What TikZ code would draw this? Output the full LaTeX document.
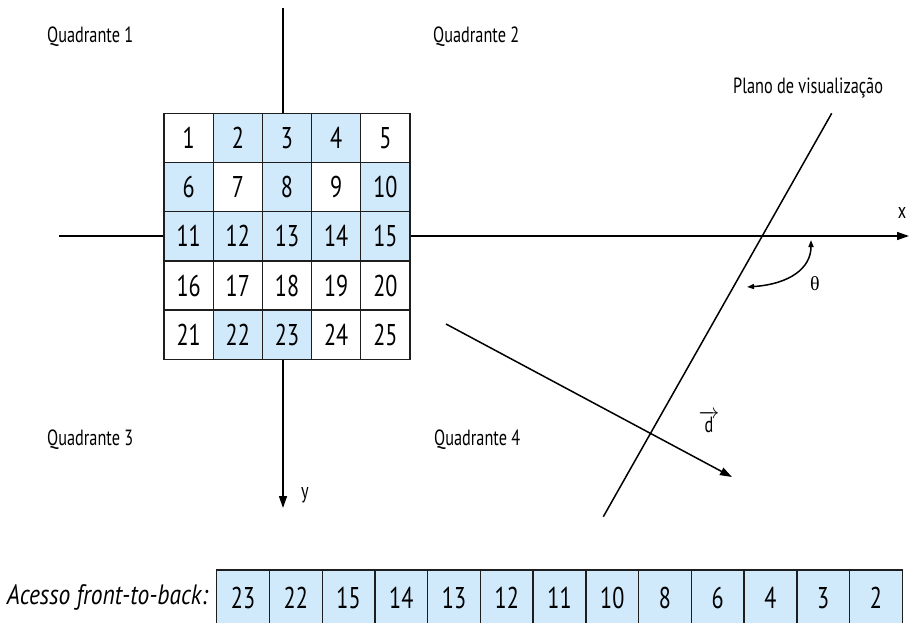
\documentclass[tikz,border=0pt]{standalone}
\usepackage{fontspec}
\setmainfont{PT Sans}[FakeStretch=0.74]
\newfontfamily\accfont{PT Sans}[FakeStretch=0.84]
\newfontfamily\greekfont{Liberation Serif}
\usetikzlibrary{arrows.meta}
\definecolor{cellblue}{RGB}{208,234,252}
\definecolor{gridline}{RGB}{30,30,30}
\tikzset{
  cell/.style={draw=gridline, line width=1.3pt, minimum width=49.2pt, minimum height=49.2pt, inner sep=0pt, font=\fontsize{30}{30}\selectfont},
  acc/.style={cell, minimum width=52.74pt, minimum height=56pt, fill=cellblue},
  axis/.style={line width=1.5pt, -{Triangle[length=12pt,width=8pt]}},
  plain line/.style={line width=1.5pt},
  lbl/.style={font=\fontsize{22}{22}\selectfont, inner sep=0pt},
  theta arrow/.style={line width=1.5pt, {Triangle[length=7pt,width=5pt]}-{Triangle[length=7pt,width=5pt]}}
}
\begin{document}
\begin{tikzpicture}[x=1pt,y=-1pt]
\useasboundingbox (0,0) rectangle (909,622);
% axes
\coordinate (ytop) at (283,8);
\coordinate (ybot) at (283,508);
\coordinate (xleft) at (59,236);
\coordinate (xright) at (909,236);
\draw[axis] (ytop) -- (ybot);
\draw[axis] (xleft) -- (xright);
% grid
\foreach \n/\f in {1/white,2/cellblue,3/cellblue,4/cellblue,5/white,6/cellblue,7/white,8/cellblue,9/white,10/cellblue,11/cellblue,12/cellblue,13/cellblue,14/cellblue,15/cellblue,16/white,17/white,18/white,19/white,20/white,21/white,22/cellblue,23/cellblue,24/white,25/white}{
  \pgfmathtruncatemacro\rr{(\n-1)/5}
  \pgfmathtruncatemacro\cc{\n-1-5*\rr}
  \node[cell, fill=\f] (c\n) at ({164+49.2*(\cc+0.5)},{113.3+49.2*(\rr+0.5)}) {\n};
}
% viewing plane
\coordinate (p1) at (603.3,516.7);
\coordinate (p2) at (831.7,113.3);
\draw[plain line] (p1) -- (p2);
% direction d
\coordinate (d1) at (446,324);
\coordinate (d2) at (732,477);
\draw[axis] (d1) -- (d2);
% theta
\coordinate (t1) at (747,287);
\coordinate (t2) at (811,240);
\draw[theta arrow] (t1) .. controls (790,284) and (811,268) .. (t2);
% labels
\node[lbl, anchor=west] (q1) at (47,37) {Quadrante 1};
\node[lbl, anchor=west] (q2) at (433,37) {Quadrante 2};
\node[lbl, anchor=west] (q3) at (47,440) {Quadrante 3};
\node[lbl, anchor=west] (q4) at (434,440) {Quadrante 4};
\node[lbl, anchor=west] (plano) at (733,88) {Plano de visualização};
\node[lbl] (xl) at (902,213) {x};
\node[lbl] (yl) at (305,495) {y};
\node[font=\greekfont\fontsize{20}{20}\selectfont, inner sep=0pt] (th) at (815,284) {θ};
\node[lbl] (dl) at (709,422) {$\overrightarrow{\mbox{d}}$};
% access order
\node[font=\accfont\itshape\fontsize{28}{28}\selectfont, anchor=east, inner sep=0pt] (acclbl) at (208,597) {Acesso front-to-back:};
\foreach [count=\i] \v in {23,22,15,14,13,12,11,10,8,6,4,3,2}
  \node[acc] (a\i) at ({216.7+52.74*(\i-0.5)},598) {\v};
\end{tikzpicture}
\end{document}
